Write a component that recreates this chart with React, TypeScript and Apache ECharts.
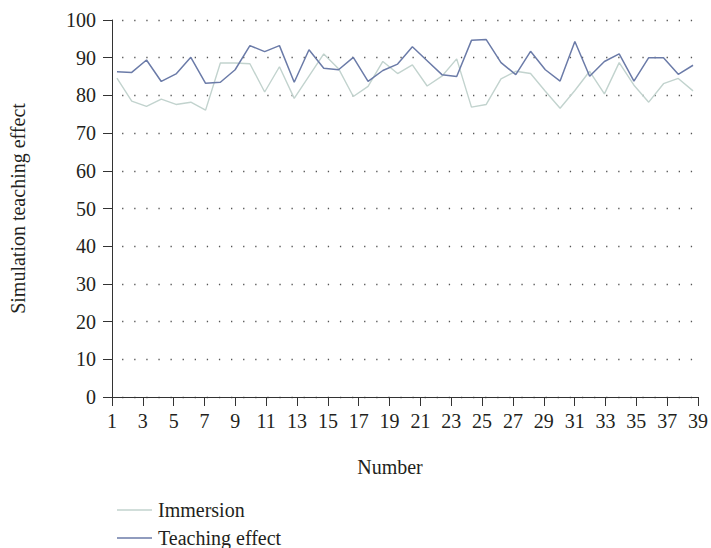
import { useEffect, useRef } from "react";
import * as echarts from "echarts";

const tickLabels = [
  "1", "2", "3", "4", "5", "6", "7", "8", "9", "10",
  "11", "12", "13", "14", "15", "16", "17", "18", "19", "20",
  "21", "22", "23", "24", "25", "26", "27", "28", "29", "30",
  "31", "32", "33", "34", "35", "36", "37", "38", "39",
];

const numbers = [
  1, 2, 3, 4, 5, 6, 7, 8, 9, 10,
  11, 12, 13, 14, 15, 16, 17, 18, 19, 20,
  21, 22, 23, 24, 25, 26, 27, 28, 29, 30,
  31, 32, 33, 34, 35, 36, 37, 38, 39, 40,
];

const immersion = [
  84.6, 78.5, 77.1, 79.0, 77.6, 78.2, 76.1, 88.6, 88.6, 88.4,
  80.9, 87.6, 79.2, 85.1, 91.0, 87.1, 79.7, 82.4, 89.0, 85.8,
  88.1, 82.5, 85.1, 89.7, 76.9, 77.6, 84.4, 86.4, 85.8, 81.1,
  76.6, 81.3, 86.4, 80.4, 88.7, 82.7, 78.2, 83.1, 84.5, 81.2,
];

const teachingEffect = [
  86.3, 86.1, 89.4, 83.7, 85.7, 90.1, 83.2, 83.5, 86.8, 93.2,
  91.6, 93.2, 83.5, 92.1, 87.2, 86.8, 90.1, 83.7, 86.6, 88.3,
  92.9, 89.2, 85.5, 85.0, 94.6, 94.8, 88.7, 85.5, 91.7, 86.8,
  83.8, 94.3, 85.1, 89.0, 91.0, 83.8, 90.0, 90.0, 85.6, 88.0,
];

const FONT = "'Liberation Serif', 'Times New Roman', serif";
const TEXT = "#231f20";
const AXIS = "#333333";
const GRAY = "#c2d3ce";
const BLUE = "#6b7ba8";

export default function App() {
  const ref = useRef<HTMLDivElement>(null);

  useEffect(() => {
    if (!ref.current) return;
    const chart = echarts.init(ref.current, undefined, { renderer: "svg" });
    const oddOnly = (i: number) => i % 2 === 0;
    const legendBase = {
      orient: "vertical",
      left: 112,
      itemWidth: 35,
      itemHeight: 1.4,
      icon: "rect",
      textStyle: {
        fontFamily: FONT,
        fontSize: 20,
        color: TEXT,
        padding: [0, 0, 0, 1],
      },
    };
    chart.setOption({
      animation: false,
      textStyle: { fontFamily: FONT },
      grid: { left: 112, right: 9.3, top: 20, bottom: 151 },
      legend: [
        { ...legendBase, top: 495, data: ["Immersion"] },
        { ...legendBase, top: 523, data: ["Teaching effect"] },
      ],
      xAxis: [
        {
          type: "category",
          data: tickLabels,
          boundaryGap: false,
          name: "Number",
          nameLocation: "middle",
          nameGap: 60,
          nameTextStyle: {
            fontFamily: FONT,
            fontSize: 20,
            color: TEXT,
            padding: [0, 30, 0, 0],
          },
          axisLine: { show: true, lineStyle: { color: AXIS, width: 1 } },
          axisTick: {
            show: true,
            length: 9,
            interval: oddOnly,
            lineStyle: { color: AXIS, width: 1 },
          },
          axisLabel: {
            interval: oddOnly,
            margin: 14,
            fontFamily: FONT,
            fontSize: 20,
            color: TEXT,
          },
          splitLine: { show: false },
        },
        {
          type: "value",
          min: 0.664,
          max: 40.336,
          show: false,
          splitLine: { show: false },
        },
      ],
      yAxis: {
        type: "value",
        min: 0,
        max: 100,
        interval: 10,
        name: "Simulation teaching effect",
        nameLocation: "middle",
        nameGap: 84,
        nameTextStyle: { fontFamily: FONT, fontSize: 20, color: TEXT },
        axisLine: { show: true, lineStyle: { color: AXIS, width: 1 } },
        axisTick: { show: true, length: 9, lineStyle: { color: AXIS, width: 1 } },
        axisLabel: { margin: 16, fontFamily: FONT, fontSize: 20, color: TEXT },
        splitLine: {
          show: true,
          lineStyle: {
            color: "#555555",
            width: 1.3,
            type: [1.3, 10.8],
            dashOffset: 2.1,
          },
        },
      },
      series: [
        {
          name: "Immersion",
          type: "line",
          xAxisIndex: 1,
          data: numbers.map((n, i) => [n, immersion[i]]),
          symbol: "none",
          lineStyle: { color: GRAY, width: 1.4 },
          itemStyle: { color: GRAY },
        },
        {
          name: "Teaching effect",
          type: "line",
          xAxisIndex: 1,
          data: numbers.map((n, i) => [n, teachingEffect[i]]),
          symbol: "none",
          lineStyle: { color: BLUE, width: 1.5 },
          itemStyle: { color: BLUE },
        },
      ],
    });
    return () => chart.dispose();
  }, []);

  return (
    <div
      ref={ref}
      style={{ position: "fixed", left: 0, top: 0, width: 711, height: 548, background: "#ffffff" }}
    />
  );
}
